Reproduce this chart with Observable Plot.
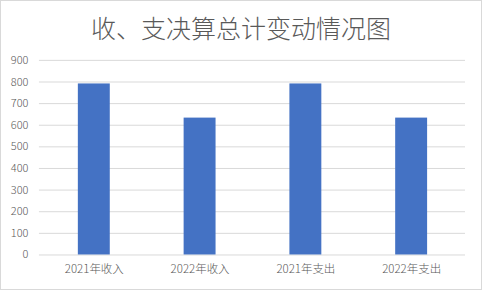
<!DOCTYPE html>
<html>
<head>
<meta charset="utf-8">
<script src="https://cdn.jsdelivr.net/npm/d3@7"></script>
<script src="https://cdn.jsdelivr.net/npm/@observablehq/plot@0.6"></script>
<style>
  html, body { margin: 0; padding: 0; background: #fff; }
  #wrap { position: relative; width: 482px; height: 290px; box-sizing: border-box; border: 1px solid #d9d9d9; background: #fff; overflow: hidden; }
  #title { position: absolute; left: 0; right: 0; top: 10px; text-align: center; font-family: "Noto Sans CJK SC", sans-serif; font-weight: 300; font-size: 25px; line-height: 32px; color: #595959; }
  #chart { position: absolute; left: -1px; top: -1px; }
</style>
</head>
<body>
<div id="wrap">
  <div id="title">收、支决算总计变动情况图</div>
  <div id="chart"></div>
</div>
<script>
const categories = ["2021年收入", "2022年收入", "2021年支出", "2022年支出"];
const values = [791, 633, 791, 633];
const yTicks = [0, 100, 200, 300, 400, 500, 600, 700, 800, 900];

const data = categories.map((c, i) => ({category: c, value: values[i]}));

const plot = Plot.plot({
  width: 482,
  height: 290,
  marginTop: 60,
  marginBottom: 35,
  marginLeft: 39,
  marginRight: 16,
  style: {fontFamily: "'Noto Sans CJK SC', sans-serif", fontSize: "11.5px", fontWeight: 300, color: "#595959", background: "transparent"},
  x: {domain: categories, paddingInner: 0.7, paddingOuter: 0.35, label: null},
  y: {domain: [0, 900], label: null},
  marks: [
    Plot.gridY(yTicks, {stroke: "#d9d9d9", strokeOpacity: 1, strokeWidth: 1}),
    Plot.barY(data, {x: "category", y: "value", fill: "#4472C4"}),
    Plot.axisY({ticks: yTicks, tickSize: 0, tickPadding: 11, label: null, fontSize: 11}),
    Plot.axisX({tickSize: 0, tickPadding: 10, label: null})
  ]
});
document.getElementById("chart").appendChild(plot);
</script>
</body>
</html>
